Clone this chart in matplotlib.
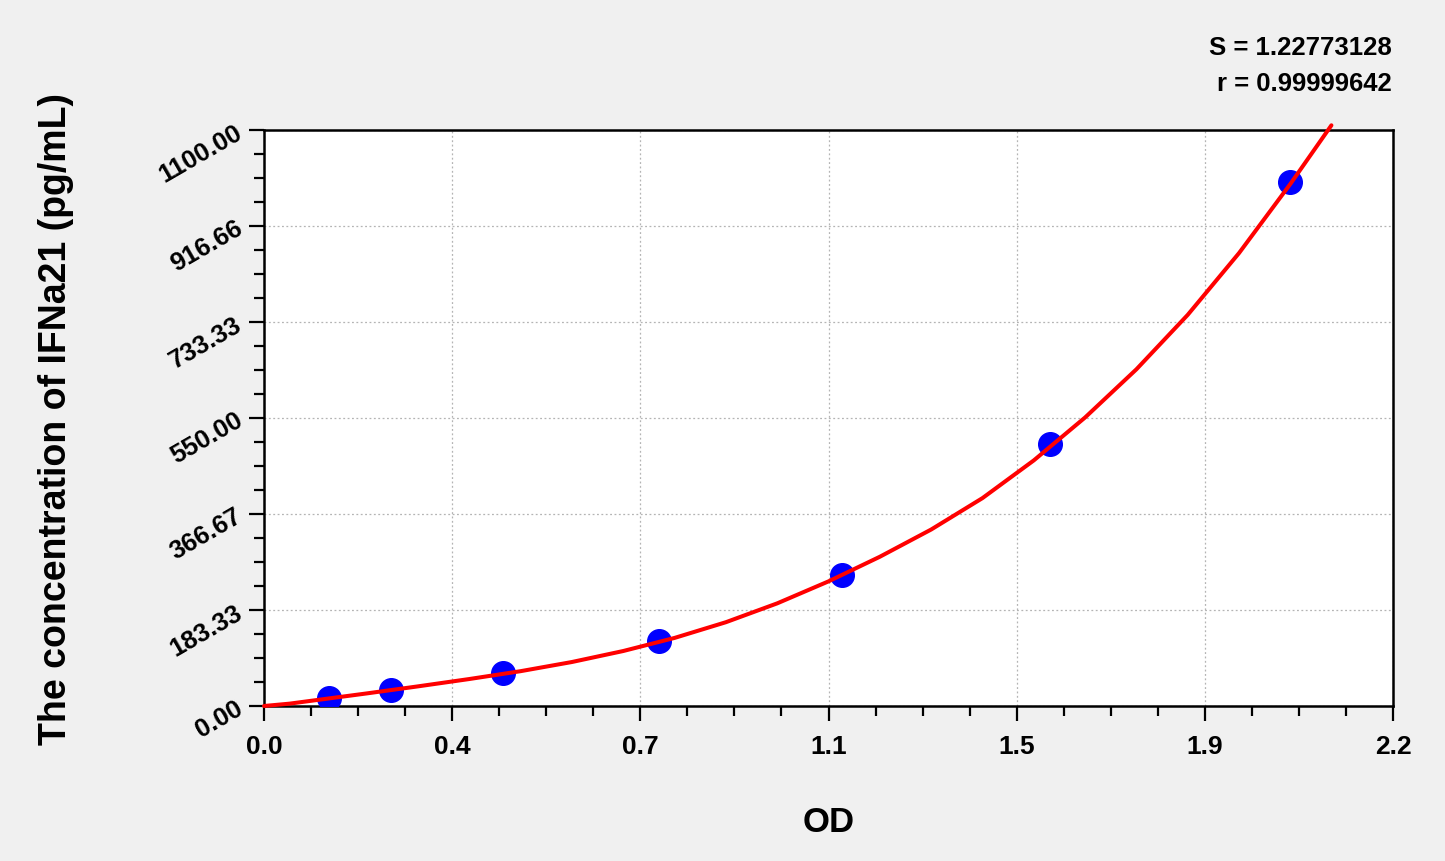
import matplotlib
matplotlib.use('Agg')
import matplotlib.pyplot as plt
from matplotlib.ticker import FixedLocator, AutoMinorLocator
import numpy as np

# standards (OD, concentration)
od = [0.127, 0.248, 0.466, 0.770, 1.126, 1.532, 1.999]
conc = [15.6, 31.25, 62.5, 125, 250, 500, 1000]

# fitted curve
curve_od = [0.0, 0.05, 0.1, 0.2, 0.3, 0.4, 0.5, 0.6, 0.7, 0.8, 0.9, 1.0,
            1.1, 1.2, 1.3, 1.4, 1.5, 1.6, 1.7, 1.8, 1.9, 2.0, 2.08]
curve_conc = [0.0, 4.5, 11.0, 24.0, 37.5, 51.5, 66.5, 84.0, 105.0, 130.0,
              160.0, 196.0, 238.0, 285.0, 337.0, 397.0, 469.0, 551.0, 643.0,
              747.0, 865.0, 997.0, 1109.0]

x_labels = ['0.0', '0.4', '0.7', '1.1', '1.5', '1.9', '2.2']
y_labels = ['0.00', '183.33', '366.67', '550.00', '733.33', '916.66', '1100.00']
stats = ['S = 1.22773128', 'r = 0.99999642']

plt.rcParams['font.family'] = ['Liberation Sans', 'DejaVu Sans']
plt.rcParams['font.weight'] = 'bold'

bg = '#f0f0f0'
fig = plt.figure(figsize=(14.45, 8.62), dpi=100, facecolor=bg)
ax = fig.add_axes([264/1445, 1-707/862, 1129/1445, 576/862])
ax.set_facecolor('white')

ax.plot(od, conc, 'o', color='#0000ff', ms=17, zorder=3)
ax.plot(curve_od, curve_conc, '-', color='#ff0000', lw=2.9, zorder=4,
        clip_on=False, solid_capstyle='round', solid_joinstyle='round')

ax.set_xlim(0, 2.2)
ax.set_ylim(0, 1100)
ax.xaxis.set_major_locator(FixedLocator(np.linspace(0, 2.2, len(x_labels))))
ax.yaxis.set_major_locator(FixedLocator(np.linspace(0, 1100, len(y_labels))))
ax.set_xticklabels(x_labels, fontsize=19, fontweight='bold')
ax.set_yticklabels(y_labels, fontsize=18.5, fontweight='bold',
                   rotation=30, rotation_mode='anchor', ha='right', va='center')
ax.xaxis.set_minor_locator(AutoMinorLocator(4))
ax.yaxis.set_minor_locator(AutoMinorLocator(4))

ax.tick_params(which='major', length=11, width=1.6, direction='out', pad=9)
ax.tick_params(which='minor', length=7, width=1.6, direction='out')
ax.tick_params(axis='y', which='major', pad=6)
for s in ax.spines.values():
    s.set_linewidth(1.8)

ax.grid(True, which='major', linestyle=(0, (1.5, 2)), color='#b4b4b4', lw=0.9)
ax.set_axisbelow(True)

ax.set_xlabel('OD', fontsize=25, fontweight='bold', labelpad=34)
ax.set_ylabel('The concentration of IFNa21 (pg/mL)', fontsize=27,
              fontweight='bold', labelpad=58)

fig.text(1392/1445, 1-48/862, stats[0], fontsize=18.5, fontweight='bold',
         ha='right', va='center')
fig.text(1392/1445, 1-84/862, stats[1], fontsize=18.5, fontweight='bold',
         ha='right', va='center')

fig.savefig('out.png', dpi=100, facecolor=bg)
